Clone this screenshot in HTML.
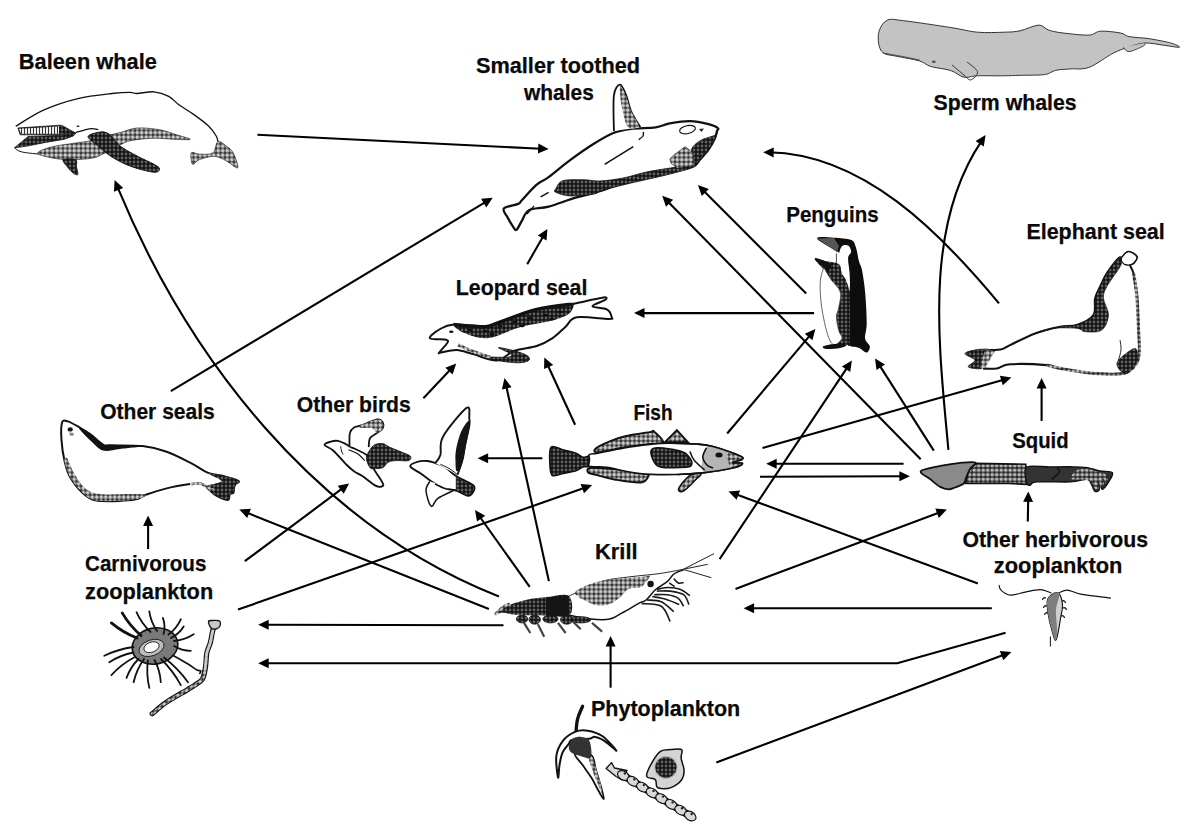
<!DOCTYPE html>
<html><head><meta charset="utf-8"><style>
html,body{margin:0;padding:0;background:#fff;}
svg{display:block;}
.ar line,.ar .c{stroke:#000;stroke-width:2.1;fill:none;}
.ar path{fill:#000;}
.lb text{font-family:"Liberation Sans",sans-serif;font-weight:bold;font-size:22px;fill:#0a0a0a;stroke:#0a0a0a;stroke-width:0.25px;}
</style></head><body>
<svg width="1191" height="839" viewBox="0 0 1191 839">
<defs>
<pattern id="lt" width="4.5" height="4.5" patternUnits="userSpaceOnUse"><rect width="4.5" height="4.5" fill="#333"/><circle cx="2.25" cy="2.25" r="1.95" fill="#bdbdbd"/><circle cx="1.8" cy="1.8" r="0.6" fill="#eee"/></pattern>
<pattern id="md" width="4.5" height="4.5" patternUnits="userSpaceOnUse"><rect width="4.5" height="4.5" fill="#2a2a2a"/><circle cx="2.25" cy="2.25" r="1.9" fill="#aaa"/><circle cx="1.8" cy="1.8" r="0.6" fill="#ddd"/></pattern>
<pattern id="dk" width="4" height="4" patternUnits="userSpaceOnUse"><rect width="4" height="4" fill="#111"/><circle cx="2" cy="2" r="1.45" fill="#606060"/></pattern>
<pattern id="bl" width="3" height="3" patternUnits="userSpaceOnUse"><rect width="3" height="3" fill="#eee"/><rect width="1" height="3" fill="#333"/></pattern>
</defs>
<g class="an">
<path d="M15.7,126.3 C20.4,123.6 33.6,114.5 44.0,109.9 C54.4,105.3 66.6,101.3 77.9,98.6 C89.2,95.9 103.2,94.5 111.9,93.5 C120.6,92.5 125.8,92.4 130.0,92.4 C134.2,92.4 133.0,93.6 137.0,93.5 C141.0,93.4 148.7,91.3 154.0,91.8 C159.3,92.3 164.5,94.1 168.7,96.3 C172.8,98.5 174.8,101.8 178.9,104.8 C183.1,107.8 188.7,110.9 193.6,114.4 C198.5,117.9 204.5,122.2 208.3,125.8 C212.1,129.4 214.6,133.4 216.2,136.0 C217.8,138.6 217.6,140.7 217.9,141.6" fill="none" stroke="#111" stroke-width="1.3" />
<path d="M38.3,154.1 C36.7,153.0 37.8,152.0 40.6,150.7 C43.4,149.4 49.1,147.4 55.3,146.1 C61.5,144.8 71.9,143.6 77.9,142.7 C83.9,141.8 86.8,141.6 91.5,140.5 C96.2,139.4 101.2,137.3 106.0,136.0 C110.8,134.7 114.8,133.9 120.0,132.6 C125.2,131.3 130.4,128.5 137.0,128.0 C143.6,127.5 153.0,128.6 159.6,129.7 C166.2,130.8 171.5,133.2 176.6,134.8 C181.7,136.4 190.6,138.6 190.2,139.3 C189.8,140.1 180.3,139.5 174.3,139.3 C168.3,139.1 161.2,138.0 154.0,138.2 C146.8,138.4 137.0,139.4 131.3,140.5 C125.6,141.6 125.1,142.6 120.0,145.0 C114.9,147.4 105.7,152.9 100.6,155.2 C95.5,157.5 94.9,157.8 89.2,158.6 C83.5,159.3 73.1,159.9 66.6,159.7 C60.1,159.5 54.7,158.4 50.0,157.5 C45.3,156.6 39.9,155.2 38.3,154.1Z" fill="url(#lt)" stroke="#111" stroke-width="0.6" />
<path d="M14.5,147.8 L28.1,136.5 L61.0,135.4 L75.7,133.1 L73.4,135.9 L64.3,139.3 L44.0,142.7 L27.0,146.1Z" fill="url(#dk)" stroke="#111" stroke-width="0.8" />
<path d="M14.5,147.8 C15.6,148.5 17.3,150.8 21.3,151.8 C25.3,152.9 35.5,153.7 38.3,154.1" fill="none" stroke="#111" stroke-width="1" />
<path d="M17.9,128.0 L59.8,125.2 L62.0,125.5 L75.7,133.1 L61.0,134.8 L20.2,134.8Z" fill="url(#dk)" stroke="#111" stroke-width="0.8" />
<path d="M19.0,128.8 L59.0,126.5 L59.0,133.8 L21.0,133.8Z" fill="url(#bl)" stroke="none" stroke-width="1" />
<path d="M75.7,132.5 C77.0,132.1 81.0,131.0 83.6,130.3 C86.2,129.7 89.0,128.7 91.5,128.6 C94.0,128.5 97.2,129.5 98.3,129.7" fill="none" stroke="#111" stroke-width="1.2" />
<ellipse cx="78" cy="126.3" rx="1.6" ry="0.8" fill="#111"/>
<path d="M88.1,136.5 C88.5,134.2 97.2,132.5 100.6,132.0 C104.0,131.5 106.3,132.5 108.5,133.7 C110.7,134.9 112.1,136.9 114.0,139.0 C115.9,141.1 116.2,143.3 120.0,146.1 C123.8,148.9 131.3,153.0 137.0,156.0 C142.7,159.0 150.2,162.2 154.0,164.3 C157.8,166.4 159.6,167.5 159.6,168.8 C159.6,170.1 158.7,172.6 154.0,172.2 C149.3,171.8 138.3,169.0 131.3,166.5 C124.3,164.0 117.5,160.4 112.0,157.0 C106.5,153.6 102.0,149.4 98.0,146.0 C94.0,142.6 87.7,138.8 88.1,136.5Z" fill="url(#dk)" stroke="#111" stroke-width="1" />
<path d="M63.2,159.7 C64.6,158.5 73.5,158.5 75.7,159.7 C77.9,160.9 76.1,164.6 76.5,167.0 C76.9,169.4 78.4,173.3 77.9,174.4 C77.4,175.5 75.1,174.5 73.4,173.3 C71.7,172.1 69.2,169.3 67.5,167.0 C65.8,164.7 61.8,160.9 63.2,159.7Z" fill="url(#dk)" stroke="#111" stroke-width="0.8" />
<path d="M217.9,141.6 C220.2,140.5 223.9,144.2 226.4,146.1 C228.9,148.0 231.3,149.3 233.2,152.9 C235.1,156.5 238.7,166.2 237.8,167.7 C236.9,169.2 230.7,163.5 228.0,162.0 C225.3,160.5 224.4,159.5 221.9,158.6 C219.4,157.7 216.6,156.1 212.8,156.3 C209.0,156.5 202.7,158.4 199.3,159.7 C195.9,161.0 193.8,165.4 192.5,164.3 C191.2,163.2 190.2,154.6 191.3,152.9 C192.4,151.2 195.7,154.1 199.3,154.1 C202.9,154.1 209.7,155.0 212.8,152.9 C215.9,150.8 215.6,142.7 217.9,141.6Z" fill="url(#lt)" stroke="#111" stroke-width="0.6" />
<path d="M503.9,208.4 C505.7,206.2 515.2,205.2 518.2,203.9 C521.2,202.6 518.8,203.4 521.8,200.3 C524.8,197.2 531.6,189.0 536.1,185.1 C540.6,181.2 542.9,181.3 548.6,177.1 C554.3,172.9 562.6,165.6 570.1,160.1 C577.6,154.6 586.1,148.6 593.4,144.0 C600.7,139.4 607.6,135.2 613.9,132.7 C620.2,130.2 624.0,129.7 631.0,128.8 C638.0,127.9 649.3,128.2 655.8,127.3 C662.2,126.4 664.0,124.4 669.7,123.4 C675.4,122.4 683.4,121.0 689.9,121.1 C696.4,121.2 703.9,123.0 708.5,124.2 C713.1,125.4 716.4,126.8 717.8,128.0 C719.2,129.2 717.5,129.3 717.0,131.1 C716.5,132.9 716.1,135.8 714.7,138.9 C713.3,142.0 711.1,146.1 708.5,149.7 C705.9,153.3 701.5,158.0 699.2,160.6 C696.9,163.2 698.1,163.6 694.5,165.2 C690.9,166.8 685.5,168.3 677.5,169.9 C669.5,171.5 655.5,172.7 646.5,174.5 C637.5,176.3 630.6,178.0 623.2,180.7 C615.8,183.4 610.2,187.7 602.3,190.5 C594.3,193.3 584.5,195.0 575.5,197.7 C566.5,200.4 556.4,204.5 548.6,206.6 C540.9,208.7 533.5,207.8 529.0,210.2 C524.5,212.6 523.9,217.6 521.8,220.9 C519.7,224.2 518.0,228.9 516.5,229.8 C515.0,230.7 514.4,228.4 512.9,226.3 C511.4,224.2 509.0,220.3 507.5,217.3 C506.0,214.3 502.1,210.6 503.9,208.4Z" fill="#fff" stroke="#111" stroke-width="2.3" />
<path d="M555.8,188.7 C557.0,186.8 558.2,182.2 563.0,180.7 C567.8,179.2 578.2,179.8 584.4,179.8 C590.6,179.9 593.5,181.3 600.0,181.0 C606.5,180.7 615.5,179.5 623.2,178.0 C631.0,176.5 637.5,173.9 646.5,172.0 C655.5,170.1 669.5,168.3 677.5,166.8 C685.5,165.3 691.9,162.9 694.5,163.0 C697.1,163.1 698.4,165.3 693.0,167.5 C687.6,169.7 672.3,173.4 662.0,176.0 C651.7,178.6 641.0,180.6 631.0,183.0 C621.0,185.4 608.6,188.7 602.3,190.5 C596.0,192.3 598.8,193.2 593.4,194.1 C588.0,195.0 576.4,196.2 570.1,195.9 C563.8,195.6 558.2,193.5 555.8,192.3 C553.4,191.1 554.6,190.6 555.8,188.7Z" fill="url(#dk)" stroke="#111" stroke-width="0.8" />
<path d="M717.0,131.1 C716.9,131.8 716.1,135.8 714.7,138.9 C713.3,142.0 711.1,146.1 708.5,149.7 C705.9,153.3 701.8,158.0 699.2,160.6 C696.6,163.2 694.3,167.0 693.0,165.2 C691.7,163.4 690.1,153.8 691.4,149.7 C692.7,145.6 696.7,142.8 700.7,140.4 C704.7,138.0 712.7,136.6 715.4,135.0 C718.1,133.4 717.1,130.4 717.0,131.1Z" fill="url(#dk)" stroke="#111" stroke-width="0.8" />
<path d="M669.7,159.0 L674.4,154.4 L685.2,146.6 L693.0,152.8 L694.5,165.2 L677.5,168.3 L671.3,163.7Z" fill="url(#lt)" stroke="#111" stroke-width="0.5" />
<path d="M613.9,131.1 C613.9,125.2 612.9,103.2 613.9,95.5 C614.9,87.8 618.0,84.6 620.1,84.6 C622.2,84.6 624.5,91.1 626.3,95.5 C628.1,99.9 628.7,105.7 631.0,111.0 C633.3,116.3 638.8,124.6 640.3,127.3" fill="#fff" stroke="#111" stroke-width="1.8" />
<path d="M620.5,86.0 C621.5,86.7 624.2,91.8 626.0,96.0 C627.8,100.2 628.9,106.0 631.0,111.0 C633.1,116.0 639.0,123.3 638.5,126.0 C638.0,128.7 630.8,130.0 628.0,127.0 C625.2,124.0 623.3,113.8 622.0,108.0 C620.7,102.2 620.2,95.7 620.0,92.0 C619.8,88.3 619.5,85.3 620.5,86.0Z" fill="url(#lt)" stroke="none" stroke-width="1" />
<ellipse cx="687.5" cy="129.6" rx="8" ry="4" transform="rotate(-12 687.5 129.6)" fill="none" stroke="#111" stroke-width="1.1"/>
<path d="M699.0,129.0 L704.0,128.5 L701.5,132.0Z" fill="#222" stroke="none" stroke-width="1" />
<path d="M604.6,164.4 L633.3,146.6" fill="none" stroke="#111" stroke-width="1.6" />
<path d="M638.7,139.7 C639.4,139.1 642.2,137.3 643.0,136.0 C643.8,134.7 643.3,132.6 643.4,131.9" fill="none" stroke="#111" stroke-width="1.4" />
<path d="M540.6,196.8 L548.6,192.3" fill="none" stroke="#111" stroke-width="1.5" />
<path d="M527,214 L534,206" fill="none" stroke="#111" stroke-width="1.2" />
<path d="M887.5,20.1 C891.5,18.5 893.1,19.5 903.6,20.7 C914.1,21.9 938.3,25.6 950.6,27.5 C962.9,29.4 968.5,31.4 977.5,32.2 C986.5,33.0 997.2,32.4 1004.3,32.2 C1011.4,32.0 1014.3,32.0 1020.0,30.8 C1025.7,29.6 1033.9,25.2 1038.7,25.1 C1043.5,25.0 1044.6,28.8 1048.7,30.1 C1052.8,31.4 1056.4,32.2 1063.1,33.0 C1069.8,33.8 1082.7,35.4 1088.9,35.1 C1095.1,34.8 1095.1,31.6 1100.4,31.2 C1105.7,30.8 1115.7,32.1 1120.5,33.0 C1125.3,33.9 1124.3,35.6 1129.1,36.6 C1133.9,37.6 1142.2,37.6 1149.2,38.7 C1156.2,39.8 1165.8,41.6 1170.8,43.0 C1175.8,44.4 1180.6,46.9 1179.4,47.3 C1178.2,47.7 1169.3,45.9 1163.6,45.2 C1157.8,44.5 1150.7,42.7 1144.9,43.0 C1139.2,43.3 1134.4,45.3 1129.1,47.0 C1123.8,48.7 1120.0,49.7 1113.3,53.1 C1106.6,56.5 1096.1,64.8 1088.9,67.4 C1081.7,70.0 1075.8,68.4 1070.3,68.9 C1064.8,69.4 1060.2,69.3 1055.9,70.3 C1051.6,71.2 1050.4,73.8 1044.4,74.6 C1038.4,75.4 1026.7,75.1 1020.0,75.3 C1013.3,75.5 1011.4,75.7 1004.3,75.8 C997.2,75.9 984.2,75.6 977.5,75.8 C970.8,76.0 968.5,78.1 964.0,77.2 C959.5,76.3 956.2,72.3 950.6,70.5 C945.0,68.7 935.6,68.0 930.5,66.4 C925.4,64.8 925.3,62.7 919.7,61.0 C914.1,59.3 903.0,57.6 896.9,56.3 C890.8,55.0 886.4,55.1 883.4,53.0 C880.4,50.9 879.4,47.4 878.7,43.6 C878.0,39.8 877.9,34.1 879.4,30.2 C880.9,26.3 883.5,21.7 887.5,20.1Z" fill="#c3c3c3" stroke="#333" stroke-width="1" />
<path d="M1123.4,47.3 C1124.4,48.0 1125.8,51.8 1129.1,51.6 C1132.4,51.4 1140.9,47.3 1143.5,45.9 C1146.1,44.5 1144.7,43.5 1144.9,43.0" fill="#c3c3c3" stroke="#333" stroke-width="0.9" />
<path d="M952.0,65.0 C954.0,66.7 960.9,72.5 964.0,75.0 C967.1,77.5 968.5,80.4 970.8,79.9 C973.0,79.4 978.1,74.8 977.5,71.8 C976.9,68.8 968.8,63.6 967.0,62.0" fill="none" stroke="#333" stroke-width="1" />
<path d="M883.0,53.0 C885.8,53.5 893.9,54.8 900.0,56.0 C906.1,57.2 916.4,59.3 919.7,60.0" fill="none" stroke="#333" stroke-width="0.8" />
<ellipse cx="933.8" cy="61.7" rx="2" ry="1.2" fill="#555"/>
<path d="M817.1,238.5 C816.5,236.1 828.4,237.5 834.1,237.8 C839.8,238.1 847.6,238.6 851.2,240.1 C854.8,241.6 854.5,243.6 855.8,247.1 C857.1,250.6 857.9,257.1 858.9,261.0 C859.9,264.9 861.0,265.1 862.0,270.3 C863.0,275.5 864.3,283.2 865.1,292.0 C865.9,300.8 866.7,315.2 866.7,323.0 C866.7,330.8 864.6,334.6 865.1,338.5 C865.6,342.4 869.5,344.0 869.8,346.3 C870.1,348.6 868.5,352.2 866.7,352.5 C864.9,352.8 862.3,349.4 858.9,347.8 C855.5,346.2 849.6,347.8 846.5,343.2 C843.4,338.6 840.2,328.9 840.0,320.0 C839.8,311.1 843.7,298.3 845.0,290.0 C846.3,281.7 847.8,275.7 848.0,270.0 C848.2,264.3 847.7,259.0 846.0,256.0 C844.3,253.0 842.8,254.9 838.0,252.0 C833.2,249.1 817.8,240.9 817.1,238.5Z" fill="#0d0d0d" stroke="none" stroke-width="1" />
<path d="M817.1,238.5 L834.0,238.0 L839.0,246.0 L837.0,252.0Z" fill="#555" stroke="none" stroke-width="1" />
<path d="M841.9,246.3 C843.4,244.6 846.5,244.6 848.1,245.5 C849.7,246.4 851.2,249.6 851.2,251.7 C851.2,253.8 848.4,254.3 848.1,257.9 C847.8,261.5 849.4,268.0 849.6,273.4 C849.9,278.8 850.2,286.9 849.6,290.0 C849.0,293.1 847.3,295.3 846.0,292.0 C844.7,288.7 843.2,276.0 842.0,270.0 C840.8,264.0 839.0,259.9 839.0,256.0 C839.0,252.1 840.4,248.1 841.9,246.3Z" fill="#fff" stroke="none" stroke-width="1" />
<path d="M836.4,253.3 L836.4,263" fill="none" stroke="#222" stroke-width="0.8" />
<path d="M814.7,258.7 C814.8,257.2 820.8,260.1 824.8,261.0 C828.8,261.9 835.9,262.0 838.8,264.1 C841.6,266.2 840.6,270.5 841.9,273.4 C843.2,276.2 845.2,277.3 846.5,281.2 C847.8,285.1 849.1,286.6 849.6,296.7 C850.1,306.8 850.1,333.6 849.6,341.6 C849.1,349.6 849.1,344.2 846.5,344.7 C843.9,345.2 834.9,345.7 834.1,344.7 C833.3,343.7 841.1,340.8 841.9,338.5 C842.7,336.2 839.7,334.4 838.8,330.8 C837.9,327.2 836.4,320.7 836.4,316.8 C836.4,312.9 838.1,311.6 838.8,307.5 C839.4,303.4 841.6,296.6 840.3,292.0 C839.0,287.4 833.7,283.3 831.0,279.6 C828.3,275.9 826.7,273.5 824.0,270.0 C821.3,266.5 814.6,260.2 814.7,258.7Z" fill="url(#dk)" stroke="none" stroke-width="1" />
<path d="M814.7,258.7 C814.8,257.5 822.1,259.9 824.8,261.0 C827.5,262.1 830.5,263.2 831.0,265.0 C831.5,266.8 829.2,271.5 828.0,272.0 C826.8,272.5 826.2,270.2 824.0,268.0 C821.8,265.8 814.6,259.9 814.7,258.7Z" fill="#111" stroke="none" stroke-width="1" />
<path d="M824.0,268.0 C825.3,269.8 828.3,275.6 831.0,279.6 C833.7,283.6 839.0,287.4 840.3,292.0 C841.6,296.6 839.4,303.4 838.8,307.5 C838.1,311.6 836.4,312.9 836.4,316.8 C836.4,320.7 837.9,327.2 838.8,330.8 C839.7,334.4 842.7,336.2 841.9,338.5 C841.1,340.8 836.4,345.2 834.1,344.7 C831.8,344.2 830.0,341.6 827.9,335.4 C825.8,329.2 823.0,316.3 821.7,307.5 C820.4,298.7 819.9,289.1 820.2,282.7 C820.5,276.2 822.7,271.2 823.3,268.8 C823.9,266.4 822.7,266.2 824.0,268.0Z" fill="#fff" stroke="#222" stroke-width="0.7" />
<path d="M823.3,346.3 C824.6,345.5 830.1,344.3 834.0,344.0 C837.9,343.7 845.5,344.0 846.5,344.7 C847.5,345.4 843.4,347.3 840.0,348.0 C836.6,348.7 828.8,349.3 826.0,349.0 C823.2,348.7 822.0,347.1 823.3,346.3Z" fill="#111" stroke="none" stroke-width="1" />
<path d="M990.0,350.1 C992.0,350.0 998.4,350.1 1001.7,349.3 C1005.0,348.5 1004.4,347.8 1010.0,345.1 C1015.6,342.5 1026.8,336.5 1035.1,333.4 C1043.4,330.3 1053.1,328.1 1060.1,326.7 C1067.0,325.3 1071.2,327.0 1076.8,325.1 C1082.3,323.2 1090.4,319.6 1093.4,315.1 C1096.5,310.7 1094.0,303.1 1095.1,298.4 C1096.2,293.7 1098.1,290.9 1100.1,286.7 C1102.0,282.5 1103.7,278.1 1106.8,273.4 C1109.9,268.7 1116.0,260.9 1118.5,258.3 C1121.0,255.7 1120.1,258.6 1121.8,257.5 C1123.5,256.4 1126.0,251.8 1128.5,251.7 C1131.0,251.6 1136.0,254.8 1136.8,256.7 C1137.6,258.6 1134.6,261.9 1133.5,263.3 C1132.4,264.7 1130.1,263.3 1130.1,265.0 C1130.1,266.7 1132.4,268.4 1133.5,273.4 C1134.6,278.4 1136.0,285.8 1136.8,295.0 C1137.6,304.2 1138.1,318.7 1138.5,328.4 C1138.9,338.1 1139.9,347.3 1139.3,353.4 C1138.7,359.5 1137.7,361.8 1135.1,365.1 C1132.5,368.4 1130.5,372.0 1123.5,373.4 C1116.5,374.8 1104.0,374.2 1093.4,373.4 C1082.8,372.6 1067.9,369.8 1060.1,368.4 C1052.3,367.0 1055.0,365.8 1046.7,365.1 C1038.4,364.4 1018.3,363.7 1010.0,364.3 C1001.7,364.9 1001.2,367.8 996.7,368.5 C992.2,369.2 985.3,368.5 983.0,368.5" fill="#fff" stroke="#111" stroke-width="2.1" />
<path d="M1118.5,258.3 C1116.0,260.7 1109.9,268.7 1106.8,273.4 C1103.7,278.1 1102.0,282.5 1100.1,286.7 C1098.1,290.9 1096.2,293.7 1095.1,298.4 C1094.0,303.1 1096.5,310.7 1093.4,315.1 C1090.4,319.6 1082.3,323.2 1076.8,325.1 C1071.2,327.0 1067.0,325.3 1060.1,326.7 C1053.1,328.1 1036.5,333.1 1035.1,333.4 C1033.7,333.7 1044.8,329.2 1051.7,328.4 C1058.7,327.6 1071.2,327.8 1076.8,328.4 C1082.4,328.9 1080.9,331.4 1085.1,331.7 C1089.3,332.0 1097.9,332.9 1101.8,330.1 C1105.7,327.3 1108.2,320.4 1108.5,315.1 C1108.8,309.8 1103.8,303.1 1103.5,298.4 C1103.2,293.7 1104.0,292.0 1106.8,286.7 C1109.6,281.4 1117.6,271.3 1120.1,266.7 C1122.6,262.1 1122.3,260.4 1122.0,259.0 C1121.7,257.6 1121.0,255.9 1118.5,258.3Z" fill="url(#dk)" stroke="#111" stroke-width="0.6" />
<path d="M1121.8,257.5 C1122.9,255.8 1126.0,251.8 1128.5,251.7 C1131.0,251.6 1136.0,254.8 1136.8,256.7 C1137.6,258.6 1135.2,261.9 1133.5,263.3 C1131.8,264.7 1128.7,265.2 1126.8,265.0 C1124.9,264.8 1122.8,263.2 1122.0,262.0 C1121.2,260.8 1120.7,259.2 1121.8,257.5Z" fill="#fff" stroke="#111" stroke-width="1.3" />
<path d="M1133.5,273.4 C1134.0,277.0 1136.0,285.8 1136.8,295.0 C1137.6,304.2 1138.1,318.7 1138.5,328.4 C1138.9,338.1 1139.9,347.3 1139.3,353.4 C1138.7,359.5 1137.7,361.8 1135.1,365.1 C1132.5,368.4 1130.5,372.0 1123.5,373.4 C1116.5,374.8 1104.0,374.2 1093.4,373.4 C1082.8,372.6 1067.9,369.8 1060.1,368.4 C1052.3,367.0 1048.9,365.7 1046.7,365.1" fill="none" stroke="url(#md)" stroke-width="3.2" />
<path d="M1118.5,360.1 C1121.3,356.8 1132.0,348.1 1135.1,348.4 C1138.1,348.7 1138.2,357.6 1136.8,361.8 C1135.4,366.0 1129.8,372.3 1126.8,373.4 C1123.8,374.5 1119.9,370.6 1118.5,368.4 C1117.1,366.2 1115.7,363.4 1118.5,360.1Z" fill="url(#dk)" stroke="#111" stroke-width="0.6" />
<path d="M1120.1,340.1 C1120.2,341.8 1121.3,346.7 1121.0,350.0 C1120.7,353.3 1118.9,358.4 1118.5,360.1" fill="none" stroke="#111" stroke-width="0.9" />
<path d="M965.0,353.4 C965.8,351.6 975.3,349.7 980.0,349.3 C984.7,348.9 992.2,349.1 993.4,350.9 C994.6,352.7 989.0,357.1 987.0,360.0 C985.0,362.9 984.8,367.3 981.7,368.4 C978.6,369.5 969.4,368.2 968.3,366.8 C967.2,365.4 975.5,362.3 975.0,360.1 C974.5,357.9 964.2,355.2 965.0,353.4Z" fill="url(#dk)" stroke="#111" stroke-width="0.8" />
<path d="M985.0,350.0 L995.0,351.0 L985.0,368.0 L980.0,368.0Z" fill="url(#lt)" stroke="none" stroke-width="1" />
<path d="M429.8,338.1 C429.0,336.2 437.0,330.8 441.0,328.5 C445.0,326.2 448.4,324.9 453.7,324.5 C459.0,324.1 467.0,325.8 472.9,326.1 C478.8,326.4 482.2,327.6 488.8,326.1 C495.4,324.6 504.7,320.1 512.7,317.3 C520.7,314.5 527.4,311.5 536.7,309.4 C546.0,307.3 560.6,305.9 568.6,304.6 C576.6,303.3 578.6,302.6 584.5,301.4 C590.4,300.2 600.2,297.7 603.7,297.4 C607.2,297.1 607.2,298.3 605.3,299.8 C603.4,301.3 592.2,304.6 592.5,306.2 C592.8,307.8 603.7,307.5 606.9,309.4 C610.1,311.2 611.4,315.7 611.7,317.3 C612.0,318.9 614.4,318.9 608.5,318.9 C602.6,318.9 583.8,316.0 576.6,317.3 C569.4,318.6 569.4,323.4 565.4,326.9 C561.4,330.4 557.4,334.9 552.6,338.1 C547.8,341.3 543.1,343.9 536.7,346.0 C530.3,348.1 520.9,348.4 514.3,350.8 C507.6,353.2 503.7,359.9 496.8,360.4 C489.9,360.9 479.5,355.7 472.9,354.0 C466.2,352.3 462.2,350.3 456.9,350.0 C451.6,349.7 443.9,352.0 441.0,352.4 C438.1,352.8 438.3,354.0 439.4,352.4 C440.4,350.8 446.2,345.0 447.3,342.9 C448.4,340.8 448.6,340.5 445.7,339.7 C442.8,338.9 430.6,340.0 429.8,338.1Z" fill="#fff" stroke="#111" stroke-width="2" />
<path d="M453.7,324.5 C455.0,323.3 467.0,325.8 472.9,326.1 C478.8,326.4 482.2,327.6 488.8,326.1 C495.4,324.6 504.7,320.1 512.7,317.3 C520.7,314.5 527.4,311.5 536.7,309.4 C546.0,307.3 562.5,305.3 568.6,304.6 C574.7,303.9 573.4,303.8 573.4,305.4 C573.4,307.0 572.1,311.6 568.6,314.1 C565.1,316.6 560.6,318.4 552.6,320.5 C544.6,322.6 531.3,324.0 520.7,326.9 C510.1,329.8 498.1,337.0 488.8,338.1 C479.5,339.2 470.8,335.6 464.9,333.3 C459.0,331.0 452.4,325.7 453.7,324.5Z" fill="url(#dk)" stroke="none" stroke-width="1" />
<path d="M453.7,324.5 C456.9,324.8 467.0,325.8 472.9,326.1 C478.8,326.4 482.2,327.6 488.8,326.1 C495.4,324.6 504.7,320.1 512.7,317.3 C520.7,314.5 527.4,311.5 536.7,309.4 C546.0,307.3 562.5,305.3 568.6,304.6 C574.7,303.9 572.6,305.3 573.4,305.4" fill="none" stroke="#111" stroke-width="3.5" />
<ellipse cx="470" cy="330" rx="2.6" ry="1.3" fill="#111"/>
<ellipse cx="485" cy="331" rx="2.6" ry="1.3" fill="#111"/>
<ellipse cx="500" cy="326" rx="2.6" ry="1.3" fill="#111"/>
<ellipse cx="515" cy="322" rx="2.6" ry="1.3" fill="#111"/>
<ellipse cx="530" cy="318" rx="2.6" ry="1.3" fill="#111"/>
<ellipse cx="545" cy="315" rx="2.6" ry="1.3" fill="#111"/>
<ellipse cx="560" cy="312" rx="2.6" ry="1.3" fill="#111"/>
<ellipse cx="492" cy="334" rx="2.6" ry="1.3" fill="#111"/>
<ellipse cx="522" cy="326" rx="2.6" ry="1.3" fill="#111"/>
<ellipse cx="552" cy="319" rx="2.6" ry="1.3" fill="#111"/>
<path d="M498.4,347.6 C498.9,347.1 509.5,349.5 514.3,350.8 C519.1,352.1 524.7,354.0 527.1,355.6 C529.5,357.2 530.3,359.2 528.7,360.4 C527.1,361.6 522.8,362.8 517.5,362.8 C512.2,362.8 501.6,361.3 496.8,360.4 C492.0,359.5 486.9,357.7 488.8,357.2 C490.7,356.7 504.3,357.7 508.0,357.2 C511.7,356.7 512.6,355.6 511.0,354.0 C509.4,352.4 497.8,348.1 498.4,347.6Z" fill="url(#dk)" stroke="#111" stroke-width="0.8" />
<path d="M458.0,345.0 C460.3,346.0 466.7,349.0 472.0,351.0 C477.3,353.0 487.0,356.0 490.0,357.0" fill="none" stroke="url(#lt)" stroke-width="3" />
<ellipse cx="451.3" cy="331.7" rx="2.2" ry="1.3" fill="#111"/>
<path d="M62.2,422.2 C63.3,419.3 65.0,420.6 67.8,421.4 C70.6,422.2 75.2,424.9 78.9,427.0 C82.6,429.1 86.1,431.2 90.1,434.1 C94.1,437.0 99.5,442.6 102.9,444.5 C106.4,446.4 104.2,445.0 110.8,445.3 C117.4,445.6 133.4,445.0 142.7,446.1 C152.0,447.2 158.7,448.9 166.7,451.7 C174.7,454.5 183.7,459.4 190.6,462.9 C197.5,466.4 202.9,470.8 208.2,472.9 C213.5,475.0 217.2,474.3 222.2,475.6 C227.2,476.9 236.1,479.5 238.3,480.9 C240.5,482.3 236.3,482.9 235.6,484.1 C234.9,485.3 234.3,486.5 234.0,487.9 C233.7,489.3 234.2,491.6 233.5,492.7 C232.8,493.8 230.5,493.1 229.7,494.3 C228.9,495.5 229.8,499.0 228.6,499.7 C227.3,500.4 224.6,499.5 222.2,498.6 C219.8,497.7 216.8,496.3 214.1,494.3 C211.4,492.3 208.3,488.6 206.1,486.8 C203.9,485.0 203.4,484.1 200.7,483.6 C198.0,483.2 195.7,483.3 190.0,484.1 C184.3,484.9 174.0,486.6 166.7,488.4 C159.3,490.2 151.2,492.9 145.9,494.8 C140.6,496.7 142.0,498.6 134.8,499.6 C127.6,500.7 110.9,501.6 102.9,501.1 C94.9,500.6 92.2,500.1 86.9,496.4 C81.6,492.7 74.7,484.6 71.0,478.8 C67.3,473.0 66.2,468.0 64.6,461.3 C63.0,454.6 61.8,445.4 61.4,438.9 C61.0,432.4 61.1,425.1 62.2,422.2Z" fill="#fff" stroke="#111" stroke-width="2" />
<path d="M78.9,427.0 C80.2,427.4 86.1,431.2 90.1,434.1 C94.1,437.0 99.5,442.6 102.9,444.5 C106.4,446.4 104.2,445.0 110.8,445.3 C117.4,445.6 141.2,445.5 142.7,446.1 C144.2,446.7 126.6,448.3 120.0,449.0 C113.4,449.7 107.7,451.7 103.0,450.5 C98.3,449.3 95.5,445.1 92.0,442.0 C88.5,438.9 84.2,434.5 82.0,432.0 C79.8,429.5 77.6,426.6 78.9,427.0Z" fill="#111" stroke="none" stroke-width="1" />
<path d="M64.6,461.3 C65.3,464.8 67.3,473.0 71.0,478.8 C74.7,484.6 81.6,492.7 86.9,496.4 C92.2,500.1 94.9,500.6 102.9,501.1 C110.9,501.6 127.6,500.7 134.8,499.6 C142.0,498.6 146.7,495.7 145.9,494.8 C145.1,493.9 137.7,494.1 130.0,494.0 C122.3,493.9 107.5,495.0 100.0,494.0 C92.5,493.0 89.3,491.5 85.0,488.0 C80.7,484.5 77.0,478.0 74.0,473.0 C71.0,468.0 68.6,459.9 67.0,458.0 C65.4,456.1 63.9,457.8 64.6,461.3Z" fill="url(#lt)" stroke="none" stroke-width="1" />
<path d="M208.2,473.4 C208.4,472.6 217.2,474.4 222.2,475.6 C227.2,476.9 236.1,479.5 238.3,480.9 C240.5,482.3 236.3,482.9 235.6,484.1 C234.9,485.3 234.3,486.5 234.0,487.9 C233.7,489.3 234.2,491.6 233.5,492.7 C232.8,493.8 230.5,493.1 229.7,494.3 C228.9,495.5 229.8,499.0 228.6,499.7 C227.3,500.4 224.6,499.5 222.2,498.6 C219.8,497.7 216.8,496.3 214.1,494.3 C211.4,492.3 205.9,488.6 206.1,486.8 C206.3,485.0 212.7,484.7 215.2,483.6 C217.7,482.5 222.3,482.1 221.1,480.4 C219.9,478.7 208.0,474.2 208.2,473.4Z" fill="url(#dk)" stroke="none" stroke-width="1" />
<path d="M190.0,484.1 C191.8,484.0 198.0,483.2 200.7,483.6 C203.4,484.1 203.9,485.7 206.1,486.8 C208.3,487.9 212.7,489.5 214.0,490.0" fill="none" stroke="url(#lt)" stroke-width="2.5" />
<ellipse cx="70.2" cy="429.4" rx="2.6" ry="2.2" fill="#111"/><path d="M69,432.5 L74,433 L73,436 L70,435.5Z" fill="#888"/>
<path d="M324.5,444.9 C324.2,443.3 329.4,442.1 331.6,441.4 C333.8,440.7 335.7,440.5 337.9,440.9 C340.1,441.3 343.1,442.7 345.0,443.6 C346.9,444.5 345.7,444.2 349.5,446.3 C353.3,448.4 364.0,452.3 368.0,456.0 C372.0,459.7 371.2,464.1 373.6,468.6 C376.0,473.1 381.2,479.9 382.6,482.9 C384.0,485.9 382.9,486.1 381.7,486.5 C380.5,486.9 378.7,487.4 375.4,485.6 C372.1,483.8 365.6,478.2 362.0,475.8 C358.4,473.4 356.5,473.1 354.0,471.3 C351.5,469.5 350.2,468.4 346.8,465.0 C343.4,461.6 337.1,454.1 333.4,450.7 C329.7,447.3 324.8,446.4 324.5,444.9Z" fill="#fff" stroke="#111" stroke-width="1.9" />
<path d="M349.5,446.3 C349.6,444.1 349.1,436.0 349.9,432.9 C350.6,429.8 352.3,428.7 354.0,427.5 C355.7,426.3 356.3,427.0 360.2,425.7 C364.1,424.4 373.5,420.1 377.2,419.5 C380.9,418.9 381.7,420.6 382.6,422.1 C383.5,423.6 383.5,426.6 382.6,428.4 C381.7,430.2 379.3,431.3 377.2,432.9 C375.1,434.5 371.4,435.8 370.0,438.2 C368.6,440.6 368.9,445.7 368.7,447.2" fill="#fff" stroke="#111" stroke-width="1.8" />
<path d="M360.2,425.7 C362.7,424.3 373.5,420.1 377.2,419.5 C380.9,418.9 381.7,420.6 382.6,422.1 C383.5,423.6 383.5,426.6 382.6,428.4 C381.7,430.2 379.0,433.0 377.2,432.9 C375.4,432.8 374.5,428.8 372.0,428.0 C369.5,427.2 364.0,428.4 362.0,428.0 C360.0,427.6 357.7,427.1 360.2,425.7Z" fill="url(#lt)" stroke="none" stroke-width="1" />
<path d="M367.4,454.3 C368.6,451.9 371.1,447.2 373.6,445.4 C376.1,443.6 379.9,443.3 382.6,443.6 C385.3,443.9 386.7,445.9 389.7,447.2 C392.7,448.5 397.0,450.1 400.4,451.6 C403.8,453.1 408.9,454.6 410.3,456.1 C411.7,457.6 410.9,459.9 408.5,460.6 C406.1,461.4 399.4,460.3 396.0,460.6 C392.6,460.9 390.1,461.2 387.9,462.4 C385.7,463.6 385.0,466.7 382.6,467.7 C380.2,468.7 375.7,468.6 373.6,468.6 C371.5,468.6 371.2,469.2 370.0,467.7 C368.8,466.2 366.9,461.9 366.5,459.7 C366.1,457.5 366.2,456.7 367.4,454.3Z" fill="url(#dk)" stroke="#111" stroke-width="0.8" />
<path d="M340.6,446.3 C340.8,447.1 341.1,449.6 341.5,451.0 C341.9,452.4 342.8,453.9 343.0,454.5" fill="none" stroke="#111" stroke-width="1" />
<path d="M348.5,449.8 C350.1,450.5 355.3,452.2 358.0,454.0 C360.7,455.8 363.6,459.5 364.7,460.6" fill="none" stroke="#111" stroke-width="1.2" />
<path d="M410.2,466.2 C409.8,464.2 415.2,462.5 418.1,461.6 C421.0,460.7 424.5,460.8 427.3,461.0 C430.1,461.2 432.2,462.0 435.2,463.0 C438.1,464.0 441.5,464.8 445.0,467.0 C448.5,469.2 451.3,472.9 456.0,476.0 C460.7,479.1 470.3,482.7 473.2,485.3 C476.1,487.9 474.1,490.1 473.2,491.8 C472.3,493.5 470.8,495.9 468.0,495.7 C465.2,495.5 460.5,491.8 456.2,490.5 C451.9,489.2 446.2,489.5 442.0,488.0 C437.8,486.5 434.8,483.7 431.2,481.3 C427.6,478.9 424.2,476.0 420.7,473.5 C417.2,471.0 410.6,468.2 410.2,466.2Z" fill="#fff" stroke="#111" stroke-width="1.9" />
<path d="M435.2,463.0 C436.1,461.7 439.1,459.5 440.4,455.1 C441.7,450.7 438.6,444.6 443.0,436.7 C447.4,428.8 462.2,410.9 466.6,407.9 C471.0,404.8 468.9,415.3 469.3,418.4 C469.8,421.4 470.0,422.0 469.3,426.2 C468.6,430.4 466.4,437.8 465.3,443.3 C464.2,448.8 464.0,453.8 462.7,459.0 C461.4,464.2 458.4,472.2 457.5,474.8" fill="#fff" stroke="#111" stroke-width="1.9" />
<path d="M468.5,421.0 C467.2,421.3 463.1,427.2 461.0,432.0 C458.9,436.8 456.9,445.0 456.0,450.0 C455.1,455.0 455.4,458.5 455.5,462.0 C455.6,465.5 455.6,470.2 456.5,471.0 C457.4,471.8 459.5,470.8 461.0,467.0 C462.5,463.2 464.2,454.2 465.5,448.0 C466.8,441.8 468.5,434.5 469.0,430.0 C469.5,425.5 469.8,420.7 468.5,421.0Z" fill="#151515" stroke="none" stroke-width="1" />
<path d="M456.2,477.4 L473.2,485.3 L473.2,491.8 L468.0,495.7 L456.2,490.5Z" fill="url(#dk)" stroke="#111" stroke-width="0.6" />
<path d="M429.9,481.3 C429.2,482.8 425.8,486.4 426.0,490.5 C426.2,494.6 429.2,504.9 431.2,506.2 C433.2,507.5 434.1,501.0 437.8,498.4 C441.5,495.8 450.9,491.8 453.5,490.5" fill="#fff" stroke="#111" stroke-width="1.5" />
<path d="M440.4,464.3 C442.0,465.1 447.1,467.2 450.0,469.0 C452.9,470.8 456.2,473.8 457.5,474.8" fill="none" stroke="#111" stroke-width="1" />
<path d="M435.0,484.0 C436.7,484.8 441.5,487.4 445.0,488.5 C448.5,489.6 454.2,490.2 456.0,490.5" fill="none" stroke="#111" stroke-width="1.6" />
<path d="M595.3,448.8 C596.8,447.2 601.9,444.7 606.7,442.6 C611.5,440.6 617.1,438.2 624.3,436.5 C631.5,434.8 645.1,432.9 650.0,432.1 C654.9,431.3 651.7,429.8 653.9,431.5 C656.1,433.2 663.8,440.1 663.1,442.2 C662.5,444.3 656.5,443.1 650.0,444.0 C643.5,444.9 633.0,446.1 624.3,447.5 C615.6,448.9 602.7,452.1 597.9,452.3 C593.1,452.5 593.8,450.4 595.3,448.8Z" fill="url(#lt)" stroke="#111" stroke-width="1.9" />
<path d="M664.9,442.2 L676.9,430.2 L688.0,442.2Z" fill="url(#lt)" stroke="#111" stroke-width="1.9" />
<path d="M588.2,472.6 C587.2,471.4 585.7,468.2 591.7,467.8 C597.7,467.4 614.6,469.2 624.3,470.0 C634.0,470.8 645.9,471.9 650.0,472.6 C654.1,473.4 650.5,472.9 649.2,474.5 C647.9,476.1 647.6,481.4 642.0,482.3 C636.4,483.2 622.9,480.9 615.5,479.7 C608.1,478.5 602.4,476.5 597.9,475.3 C593.4,474.1 589.2,473.9 588.2,472.6Z" fill="url(#lt)" stroke="#111" stroke-width="1.9" />
<path d="M678.8,488.3 C679.9,485.7 686.2,477.8 689.9,475.4 C693.6,472.9 700.1,472.8 701.0,473.6 C701.9,474.4 698.3,477.1 695.4,480.0 C692.5,482.9 686.2,489.7 683.4,491.1 C680.6,492.5 677.7,490.9 678.8,488.3Z" fill="url(#lt)" stroke="#111" stroke-width="1.6" />
<path d="M589.1,455.0 C590.7,452.9 592.0,454.4 597.9,453.2 C603.8,452.0 615.6,449.4 624.3,447.9 C633.0,446.4 642.8,445.2 650.0,444.4 C657.2,443.6 660.1,443.2 667.7,443.1 C675.3,443.0 687.7,443.4 695.4,444.0 C703.1,444.6 706.0,444.6 713.9,446.8 C721.8,449.0 739.4,454.8 742.5,457.4 C745.6,460.0 732.4,461.5 732.4,462.5 C732.4,463.5 742.5,462.5 742.5,463.4 C742.5,464.3 738.7,466.5 732.4,468.0 C726.1,469.5 714.0,471.5 704.7,472.6 C695.5,473.7 687.7,474.3 676.9,474.5 C666.1,474.7 651.7,474.8 640.0,473.6 C628.3,472.4 615.3,468.6 606.7,467.3 C598.1,466.0 591.1,468.1 588.2,466.0 C585.3,463.9 587.5,457.1 589.1,455.0Z" fill="#fff" stroke="#111" stroke-width="1.7" />
<path d="M551.2,447.0 C553.3,444.9 558.5,448.7 562.6,449.7 C566.7,450.7 572.5,451.9 575.9,453.2 C579.3,454.4 580.7,456.6 582.9,457.2 C585.1,457.8 588.2,455.2 589.1,456.7 C590.0,458.2 589.2,464.3 588.2,466.0 C587.2,467.7 585.0,466.1 582.9,466.9 C580.8,467.7 579.3,469.7 575.9,470.8 C572.5,471.9 566.6,472.8 562.6,473.5 C558.6,474.2 554.2,477.2 552.1,475.3 C550.0,473.4 549.9,466.7 549.8,462.0 C549.6,457.3 549.1,449.1 551.2,447.0Z" fill="url(#dk)" stroke="#111" stroke-width="1.6" />
<path d="M706.5,447.7 C708.4,445.7 707.9,445.2 713.9,446.8 C719.9,448.4 739.4,454.8 742.5,457.4 C745.6,460.0 732.4,461.5 732.4,462.5 C732.4,463.5 742.5,462.5 742.5,463.4 C742.5,464.3 738.7,466.6 732.4,468.0 C726.1,469.4 709.7,473.0 704.7,471.5 C699.7,470.0 702.2,463.0 702.5,459.0 C702.8,455.0 704.6,449.7 706.5,447.7Z" fill="#b5b5b5" stroke="none" stroke-width="1" />
<path d="M728.7,453.3 C731.1,452.7 741.9,455.9 742.5,457.4 C743.1,458.9 732.4,461.5 732.4,462.5 C732.4,463.5 742.5,462.5 742.5,463.4 C742.5,464.3 734.8,468.4 732.4,468.0 C730.0,467.6 728.6,463.4 728.0,461.0 C727.4,458.6 726.3,453.9 728.7,453.3Z" fill="url(#lt)" stroke="none" stroke-width="1" />
<path d="M667.7,443.1 C672.3,443.2 687.7,443.4 695.4,444.0 C703.1,444.6 706.0,444.6 713.9,446.8 C721.8,449.0 739.4,454.8 742.5,457.4 C745.6,460.0 732.4,461.5 732.4,462.5 C732.4,463.5 742.5,462.5 742.5,463.4 C742.5,464.3 738.7,466.5 732.4,468.0 C726.1,469.5 714.0,471.5 704.7,472.6 C695.5,473.7 681.5,474.2 676.9,474.5" fill="none" stroke="#111" stroke-width="1.7" />
<path d="M651.1,450.5 C651.9,448.2 653.4,447.6 658.5,447.7 C663.6,447.8 676.5,449.9 681.6,451.4 C686.7,452.9 687.3,454.8 689.0,456.9 C690.7,459.0 692.2,462.6 691.7,464.3 C691.2,466.0 691.3,466.6 686.2,467.1 C681.1,467.6 666.6,468.0 661.2,467.1 C655.8,466.2 655.6,464.4 653.9,461.6 C652.2,458.8 650.3,452.8 651.1,450.5Z" fill="url(#dk)" stroke="#111" stroke-width="1.6" />
<path d="M689.9,451.4 C690.6,452.8 691.5,456.9 694.0,460.0 C696.5,463.1 702.9,468.6 704.7,470.3" fill="none" stroke="#111" stroke-width="1.5" />
<path d="M706.5,447.7 C705.9,449.2 702.7,454.1 702.8,457.0 C702.9,459.9 705.3,463.2 707.0,465.0 C708.7,466.8 712.0,467.5 713.0,468.0" fill="none" stroke="#111" stroke-width="1.6" />
<ellipse cx="719" cy="455.1" rx="3.6" ry="2.5" fill="#111"/>
<path d="M975.5,463.4 L1025.8,464.2 L1026.7,484.4 L1009.0,483.5 L965.4,483.5 L968.7,470.1Z" fill="url(#md)" stroke="#111" stroke-width="1.6" />
<path d="M920.9,471.0 C922.6,468.8 933.4,467.3 940.2,465.9 C947.1,464.5 956.1,463.2 962.0,462.6 C967.9,462.1 974.2,461.5 975.5,462.6 C976.8,463.7 971.6,466.4 970.0,469.0 C968.4,471.6 967.0,475.6 966.0,478.0 C965.0,480.4 965.5,481.9 963.7,483.5 C961.9,485.1 957.5,486.5 955.0,487.5 C952.5,488.5 951.1,489.5 948.6,489.4 C946.1,489.3 943.3,488.6 940.2,486.9 C937.1,485.2 933.2,481.6 930.0,479.0 C926.8,476.4 919.2,473.2 920.9,471.0Z" fill="#8a8a8a" stroke="#111" stroke-width="1.8" stroke-linejoin="round"/>
<path d="M1026.7,467.2 C1030.6,464.6 1042.7,467.1 1050.0,467.0 C1057.3,466.9 1064.2,466.7 1070.4,466.8 C1076.6,466.9 1082.3,466.9 1087.2,467.6 C1092.1,468.3 1095.6,470.2 1099.8,471.0 C1104.0,471.8 1111.0,470.7 1112.4,472.6 C1113.8,474.6 1109.9,479.9 1108.2,482.7 C1106.5,485.5 1103.6,489.4 1102.3,489.4 C1101.0,489.4 1101.2,482.5 1100.6,482.7 C1100.0,482.9 1099.9,488.9 1098.9,490.3 C1097.9,491.7 1096.0,492.1 1094.7,491.1 C1093.5,490.1 1092.7,486.4 1091.4,484.4 C1090.2,482.4 1090.7,479.7 1087.2,479.3 C1083.7,478.9 1078.8,481.5 1070.4,481.9 C1062.0,482.3 1043.5,481.3 1036.8,481.9 C1030.1,482.4 1031.8,485.1 1030.1,485.2 C1028.4,485.3 1027.3,485.7 1026.7,482.7 C1026.1,479.7 1022.8,469.8 1026.7,467.2Z" fill="#333" stroke="#111" stroke-width="1.4" />
<path d="M1070.4,478.5 C1069.9,476.9 1074.3,471.7 1077.1,470.1 C1079.9,468.5 1083.9,468.9 1087.0,469.0 C1090.1,469.1 1092.6,470.2 1095.6,471.0 C1098.6,471.8 1102.9,472.5 1105.0,474.0 C1107.1,475.5 1108.5,478.0 1108.0,480.0 C1107.5,482.0 1103.7,484.5 1102.0,486.0 C1100.3,487.5 1099.5,488.7 1098.0,489.0 C1096.5,489.3 1094.3,489.3 1093.0,488.0 C1091.7,486.7 1092.2,482.4 1090.0,481.0 C1087.8,479.6 1083.3,479.9 1080.0,479.5 C1076.7,479.1 1070.9,480.1 1070.4,478.5Z" fill="url(#md)" stroke="none" stroke-width="1" />
<path d="M1051.9,479.3 C1053.2,478.1 1058.7,473.8 1059.5,471.8 C1060.3,469.9 1057.3,468.3 1056.9,467.6" fill="none" stroke="#111" stroke-width="1.6" />
<path d="M1091.0,481.0 C1091.3,482.0 1092.3,485.3 1093.0,487.0 C1093.7,488.7 1094.7,490.3 1095.0,491.0" fill="none" stroke="#222" stroke-width="1.3" />
<path d="M1098.0,481.0 C1098.2,481.8 1099.3,484.5 1099.5,486.0 C1099.7,487.5 1099.1,489.3 1099.0,490.0" fill="none" stroke="#222" stroke-width="1.3" />
<path d="M1103.0,479.0 C1103.3,479.8 1105.1,482.3 1105.0,484.0 C1104.9,485.7 1102.9,488.2 1102.5,489.0" fill="none" stroke="#222" stroke-width="1.3" />
<path d="M1106.0,476.0 C1106.7,476.3 1109.7,476.9 1110.0,478.0 C1110.3,479.1 1108.3,481.8 1108.0,482.5" fill="none" stroke="#222" stroke-width="1.3" />
<path d="M569.2,596.0 C572.0,591.5 580.0,590.6 586.0,588.0 C592.0,585.4 597.7,582.4 605.0,580.5 C612.3,578.6 620.8,578.0 630.0,576.8 C639.2,575.6 651.1,574.8 660.0,573.5 C668.9,572.2 681.3,569.1 683.6,569.2 C685.9,569.3 676.5,572.1 673.8,574.1 C671.1,576.1 670.5,578.8 667.5,581.3 C664.5,583.8 659.5,586.2 655.9,589.3 C652.3,592.4 650.4,596.9 646.1,600.0 C641.8,603.1 634.0,606.0 630.0,608.1 C626.0,610.2 625.6,611.0 622.2,612.8 C618.8,614.6 614.8,618.0 609.6,619.1 C604.4,620.2 597.5,619.7 590.8,619.1 C584.1,618.5 572.9,619.1 569.3,615.3 C565.7,611.4 566.4,600.5 569.2,596.0Z" fill="#fff" stroke="none" stroke-width="1" />
<path d="M569.2,596.0 C572.0,594.7 580.0,590.6 586.0,588.0 C592.0,585.4 597.7,582.4 605.0,580.5 C612.3,578.6 620.8,578.0 630.0,576.8 C639.2,575.6 651.1,574.8 660.0,573.5 C668.9,572.2 679.7,569.9 683.6,569.2" fill="none" stroke="#111" stroke-width="0.9" />
<path d="M569.3,615.3 C572.9,615.9 584.1,618.5 590.8,619.1 C597.5,619.7 604.4,620.2 609.6,619.1 C614.8,618.0 617.1,615.5 622.2,612.8 C627.3,610.1 636.0,604.8 640.0,602.7 C644.0,600.6 643.5,602.2 646.1,600.0 C648.8,597.8 652.3,592.4 655.9,589.3 C659.5,586.2 664.5,583.8 667.5,581.3 C670.5,578.8 671.1,576.0 673.8,574.1 C676.5,572.2 682.0,570.4 683.6,569.7" fill="none" stroke="#111" stroke-width="1.5" />
<path d="M575.6,591.4 C578.3,589.1 587.8,584.7 594.5,582.6 C601.2,580.5 608.3,579.8 615.9,578.8 C623.5,577.8 634.3,577.4 640.0,576.9 C645.7,576.4 649.2,575.0 650.0,576.0 C650.8,577.0 646.7,581.1 645.0,583.0 C643.3,584.9 642.8,586.6 640.0,587.6 C637.2,588.6 631.9,587.2 628.5,588.9 C625.1,590.6 622.9,595.2 619.7,597.7 C616.6,600.2 613.4,602.7 609.6,604.0 C605.8,605.3 601.2,605.9 597.0,605.3 C592.8,604.7 587.6,601.7 584.5,600.2 C581.4,598.7 579.7,597.9 578.2,596.4 C576.7,594.9 572.9,593.7 575.6,591.4Z" fill="url(#lt)" stroke="none" stroke-width="1" />
<circle cx="650.6" cy="584" r="3.2" fill="#111"/>
<path d="M495.0,614.7 C496.1,613.5 503.4,607.8 508.9,605.3 C514.4,602.8 521.5,601.0 527.8,599.6 C534.1,598.2 539.9,597.7 546.7,597.1 C553.5,596.5 564.9,592.8 568.7,595.8 C572.5,598.8 574.0,612.0 569.3,615.3 C564.6,618.5 549.4,615.4 540.4,615.3 C531.4,615.2 521.5,615.1 515.2,614.7 C508.9,614.3 506.0,612.8 502.6,612.8 C499.2,612.8 493.9,616.0 495.0,614.7Z" fill="url(#dk)" stroke="none" stroke-width="1" />
<path d="M546.0,597.2 L568.7,595.8 L569.3,615.3 L546.0,615.3Z" fill="#151515" stroke="none" stroke-width="1" />
<path d="M495.0,614.7 C496.3,613.4 500.5,608.8 503.0,607.0 C505.5,605.2 508.8,604.5 510.0,604.0" fill="none" stroke="url(#lt)" stroke-width="3" />
<ellipse cx="522.1" cy="619.0" rx="5.7" ry="3.9" fill="url(#dk)" stroke="#111" stroke-width="0.8"/>
<ellipse cx="534.7" cy="619.6" rx="5.7" ry="4.6" fill="url(#dk)" stroke="#111" stroke-width="0.8"/>
<ellipse cx="550.5" cy="619.0" rx="7.6" ry="3.9" fill="url(#dk)" stroke="#111" stroke-width="0.8"/>
<ellipse cx="566.8" cy="619.6" rx="6.3" ry="4.6" fill="url(#dk)" stroke="#111" stroke-width="0.8"/>
<ellipse cx="580.7" cy="619.8" rx="10.1" ry="3.1" fill="url(#dk)" stroke="#111" stroke-width="0.8"/>
<path d="M524.0,622.9 L530.3,633.0" fill="none" stroke="#444" stroke-width="2.2" />
<path d="M537.9,624.2 L544.2,636.8" fill="none" stroke="#444" stroke-width="2.2" />
<path d="M558.0,622.9 L565.6,633.0" fill="none" stroke="#444" stroke-width="2.2" />
<path d="M573.1,621.6 L580.7,629.2" fill="none" stroke="#444" stroke-width="2.2" />
<path d="M592.0,622.9 L602.1,631.7" fill="none" stroke="#444" stroke-width="2.2" />
<path d="M683.6,569.2 L714,553.6 M683.6,569.2 L707.7,564.3 M683.6,569.5 L711.3,577.7" fill="none" stroke="#222" stroke-width="1" />
<path d="M673.8,578.6 C674.5,579.3 676.7,582.3 678.3,583.0 C679.9,583.7 682.7,582.7 683.6,582.6" fill="none" stroke="#1a1a1a" stroke-width="1.6" />
<path d="M669.3,583.0 C670.2,583.6 673.8,586.0 674.7,586.6" fill="none" stroke="#1a1a1a" stroke-width="1.6" />
<path d="M656.8,589.3 C658.7,589.0 664.5,587.5 668.4,587.5 C672.3,587.5 676.4,587.9 680.0,589.3 C683.6,590.6 688.2,594.5 689.9,595.6" fill="none" stroke="#1a1a1a" stroke-width="1.6" />
<path d="M656.8,591.1 C659.0,591.1 665.7,590.5 670.2,591.1 C674.7,591.7 680.5,592.5 683.6,594.7 C686.7,596.9 688.1,602.9 689.0,604.5" fill="none" stroke="#1a1a1a" stroke-width="1.6" />
<path d="M654.1,594.7 C656.3,594.7 663.5,594.1 667.5,594.7 C671.5,595.3 675.6,596.4 678.3,598.3 C681.0,600.2 682.7,605.0 683.6,606.3" fill="none" stroke="#1a1a1a" stroke-width="1.6" />
<path d="M652.3,596.5 C654.5,597.0 661.2,597.9 665.7,599.2 C670.2,600.5 677.0,603.6 679.2,604.5" fill="none" stroke="#1a1a1a" stroke-width="1.6" />
<path d="M647.0,600.0 C649.4,600.3 656.8,599.8 661.3,601.8 C665.8,603.8 671.7,610.1 673.8,611.7" fill="none" stroke="#1a1a1a" stroke-width="1.6" />
<path d="M641.6,603.6 C644.9,604.0 656.5,603.3 661.3,606.3 C666.1,609.3 668.7,619.0 670.2,621.5" fill="none" stroke="#1a1a1a" stroke-width="1.6" />
<ellipse cx="155" cy="646" rx="23" ry="18" transform="rotate(-12 155 646)" fill="#7a7a7a" stroke="#111" stroke-width="1.6"/>
<ellipse cx="151.5" cy="647.9" rx="13" ry="7.9" transform="rotate(-20 151.5 647.9)" fill="#bdbdbd" stroke="#111" stroke-width="0.8"/>
<ellipse cx="151.5" cy="647.2" rx="7.9" ry="5" transform="rotate(-20 151.5 647.2)" fill="#fff" stroke="#111" stroke-width="0.8"/>
<path d="M122.2,612.9 Q129.7,625.8 141.0,635.5" fill="none" stroke="#111" stroke-width="2.8" stroke-linecap="round"/>
<path d="M111.4,622.9 Q122.9,632.6 137.0,638.0" fill="none" stroke="#111" stroke-width="2.8" stroke-linecap="round"/>
<path d="M136.5,612.2 Q141.5,623.5 150.5,632.0" fill="none" stroke="#111" stroke-width="1.8" stroke-linecap="round"/>
<path d="M149.3,611.4 Q150.8,622.1 157.0,631.0" fill="none" stroke="#111" stroke-width="1.8" stroke-linecap="round"/>
<path d="M162.9,617.9 Q165.7,625.8 163.6,634.0" fill="none" stroke="#111" stroke-width="1.8" stroke-linecap="round"/>
<path d="M180.8,619.3 Q176.6,628.5 168.5,634.5" fill="none" stroke="#111" stroke-width="1.8" stroke-linecap="round"/>
<path d="M183.7,626.5 Q179.0,634.1 171.0,638.0" fill="none" stroke="#111" stroke-width="1.8" stroke-linecap="round"/>
<path d="M193.7,634.3 Q184.7,640.0 174.0,641.0" fill="none" stroke="#111" stroke-width="1.8" stroke-linecap="round"/>
<path d="M190.8,650.8 Q181.7,650.8 174.0,646.0" fill="none" stroke="#111" stroke-width="1.8" stroke-linecap="round"/>
<path d="M188.0,682.2 Q177.8,668.1 164.0,657.5" fill="none" stroke="#111" stroke-width="1.8" stroke-linecap="round"/>
<path d="M180.8,685.1 Q172.9,670.5 161.0,659.0" fill="none" stroke="#111" stroke-width="1.8" stroke-linecap="round"/>
<path d="M160.8,682.2 Q160.1,670.4 154.5,660.0" fill="none" stroke="#111" stroke-width="1.8" stroke-linecap="round"/>
<path d="M149.3,687.9 Q146.1,674.3 147.9,660.5" fill="none" stroke="#111" stroke-width="1.8" stroke-linecap="round"/>
<path d="M133.6,682.2 Q136.5,669.6 144.0,659.0" fill="none" stroke="#111" stroke-width="1.8" stroke-linecap="round"/>
<path d="M126.5,677.9 Q130.4,667.1 138.5,659.0" fill="none" stroke="#111" stroke-width="1.8" stroke-linecap="round"/>
<path d="M111.4,675.1 Q121.2,664.3 134.0,657.5" fill="none" stroke="#111" stroke-width="1.8" stroke-linecap="round"/>
<path d="M109.3,662.2 Q120.5,655.0 133.5,652.5" fill="none" stroke="#111" stroke-width="1.8" stroke-linecap="round"/>
<path d="M104.3,655.8 Q118.2,649.0 133.5,647.0" fill="none" stroke="#111" stroke-width="1.8" stroke-linecap="round"/>
<path d="M172.2,655.0 C174.8,656.5 183.9,661.5 188.0,664.0 C192.1,666.5 194.9,668.9 197.0,670.0 C199.1,671.1 200.4,670.1 200.8,670.8 C201.2,671.5 199.7,673.5 199.5,674.0" fill="none" stroke="#111" stroke-width="1.7" />
<path d="M213.5,628.0 C213.2,629.0 212.5,631.6 212.0,634.0 C211.5,636.4 211.3,639.2 210.5,642.2 C209.7,645.2 207.8,648.7 207.0,652.0 C206.2,655.3 206.3,659.1 206.0,662.0 C205.7,664.9 205.7,666.5 205.1,669.4 C204.5,672.3 204.0,676.8 202.3,679.4 C200.6,682.0 197.4,683.3 195.0,685.0 C192.6,686.7 192.8,686.5 188.0,689.4 C183.2,692.3 172.5,698.2 166.5,702.2 C160.5,706.2 154.6,711.8 152.2,713.7" fill="none" stroke="#111" stroke-width="5.2" stroke-linecap="round"/>
<path d="M213.5,628.0 C213.2,629.0 212.5,631.6 212.0,634.0 C211.5,636.4 211.3,639.2 210.5,642.2 C209.7,645.2 207.8,648.7 207.0,652.0 C206.2,655.3 206.3,659.1 206.0,662.0 C205.7,664.9 205.7,666.5 205.1,669.4 C204.5,672.3 204.0,676.8 202.3,679.4 C200.6,682.0 197.4,683.3 195.0,685.0 C192.6,686.7 192.8,686.5 188.0,689.4 C183.2,692.3 172.5,698.2 166.5,702.2 C160.5,706.2 154.6,711.8 152.2,713.7" fill="none" stroke="url(#lt)" stroke-width="3.0" stroke-linecap="round"/>
<path d="M213.5,628.0 C213.2,629.0 212.5,631.6 212.0,634.0 C211.5,636.4 211.3,639.2 210.5,642.2 C209.7,645.2 207.8,648.7 207.0,652.0 C206.2,655.3 206.3,659.1 206.0,662.0 C205.7,664.9 205.2,668.2 205.1,669.4" fill="none" stroke="#c8c8c8" stroke-width="2.6" stroke-linecap="round"/>
<path d="M208.5,621.5 C208.8,620.2 211.2,620.6 213.0,620.5 C214.8,620.4 218.3,620.1 219.5,621.0 C220.7,621.9 220.6,624.7 220.0,626.0 C219.4,627.3 217.5,628.7 216.0,629.0 C214.5,629.3 212.2,629.2 211.0,628.0 C209.8,626.8 208.2,622.8 208.5,621.5Z" fill="#c8c8c8" stroke="#111" stroke-width="1.3" />
<path d="M1051.4,593.1 C1049.6,592.5 1044.7,589.8 1040.3,589.6 C1035.9,589.4 1030.2,591.2 1025.2,592.1 C1020.2,593.0 1014.1,595.4 1010.1,595.1 C1006.1,594.8 1002.9,591.8 1001.0,590.1 C999.1,588.4 999.3,585.9 999.0,585.0" fill="none" stroke="#111" stroke-width="1.1" />
<path d="M1058.5,593.1 C1060.0,592.6 1063.8,589.9 1067.5,590.1 C1071.2,590.3 1073.4,592.8 1080.6,594.1 C1087.8,595.4 1105.9,597.4 1110.9,598.1" fill="none" stroke="#111" stroke-width="1.1" />
<path d="M1054.4,593.1 C1056.4,592.1 1058.2,592.1 1059.5,594.1 C1060.8,596.1 1062.3,601.2 1062.5,605.2 C1062.7,609.2 1061.2,614.1 1060.5,618.3 C1059.8,622.5 1059.3,626.7 1058.5,630.4 C1057.7,634.1 1056.7,640.8 1055.5,640.5 C1054.3,640.2 1052.6,632.6 1051.4,628.4 C1050.2,624.2 1049.1,620.0 1048.4,615.3 C1047.7,610.6 1046.4,603.9 1047.4,600.2 C1048.4,596.5 1052.4,594.1 1054.4,593.1Z" fill="#d0d0d0" stroke="#111" stroke-width="1.1" />
<path d="M1054.4,593.1 C1056.4,592.1 1059.2,591.3 1059.5,594.1 C1059.8,596.9 1056.4,604.0 1056.0,610.0 C1055.6,616.0 1057.1,624.9 1057.0,630.0 C1056.9,635.1 1056.4,640.8 1055.5,640.5 C1054.6,640.2 1052.6,632.6 1051.4,628.4 C1050.2,624.2 1049.1,620.0 1048.4,615.3 C1047.7,610.6 1046.4,603.9 1047.4,600.2 C1048.4,596.5 1052.4,594.1 1054.4,593.1Z" fill="#7e7e7e" stroke="none" stroke-width="1" />
<path d="M1046.0,598.0 q-3.0,-1 -3.5,2" fill="none" stroke="#111" stroke-width="1.3" />
<path d="M1047.0,606.0 q-3.0,-1 -3.5,2" fill="none" stroke="#111" stroke-width="1.3" />
<path d="M1048.0,613.0 q-3.0,-1 -3.5,2" fill="none" stroke="#111" stroke-width="1.3" />
<path d="M1062.0,601.0 q3.0,-1 3.5,2" fill="none" stroke="#111" stroke-width="1.3" />
<path d="M1063.0,608.0 q3.0,-1 3.5,2" fill="none" stroke="#111" stroke-width="1.3" />
<path d="M1061.0,616.0 q3.0,-1 3.5,2" fill="none" stroke="#111" stroke-width="1.3" />
<path d="M1050.4,636.4 L1050.4,646.5" fill="none" stroke="#111" stroke-width="1" />
<path d="M582.6,706.3 C581.9,707.9 579.5,713.3 578.5,716.0 C577.5,718.7 577.4,719.1 576.9,722.5 C576.4,725.9 575.9,734.0 575.7,736.3" fill="none" stroke="#111" stroke-width="3.3" stroke-linecap="round"/>
<path d="M558.1,777.6 C557.6,776.1 555.6,762.3 556.3,756.3 C557.0,750.2 559.4,745.4 562.5,741.3 C565.6,737.2 570.8,733.7 575.0,731.9 C579.2,730.1 583.0,730.0 587.6,730.7 C592.2,731.4 597.8,733.0 602.6,736.3 C607.4,739.6 616.0,749.9 616.4,750.7 C616.8,751.5 608.6,743.6 605.1,741.3 C601.6,739.0 597.8,737.3 595.1,736.9 C592.4,736.5 592.6,738.3 588.8,738.8 C584.9,739.3 575.3,739.2 572.0,740.0 C568.7,740.8 570.4,741.7 568.8,743.8 C567.2,745.9 564.0,749.1 562.5,752.6 C561.0,756.1 560.2,760.8 559.5,765.0 C558.8,769.2 558.6,779.1 558.1,777.6Z" fill="#fff" stroke="#111" stroke-width="2" />
<path d="M575.0,753.8 C576.5,752.1 587.8,752.4 591.3,755.1 C594.8,757.8 593.9,762.7 596.0,770.0 C598.1,777.3 604.6,797.6 603.8,798.9 C603.0,800.2 594.8,783.2 591.3,777.6 C587.8,772.0 585.3,769.1 582.6,765.1 C579.9,761.1 573.5,755.5 575.0,753.8Z" fill="#fff" stroke="#111" stroke-width="1.8" />
<path d="M589.5,757.0 L592.6,757.6 L600.1,781.4 L602.5,795.0 L594.0,775.0 L589.0,760.0Z" fill="url(#lt)" stroke="none" stroke-width="1" />
<path d="M568.8,746.3 C569.0,744.0 570.4,740.4 572.5,738.8 C574.6,737.2 578.6,736.7 581.3,736.9 C584.0,737.1 587.1,737.9 588.8,740.1 C590.5,742.3 591.1,747.1 591.3,750.1 C591.5,753.1 591.8,757.2 590.1,758.2 C588.4,759.2 584.4,757.2 581.3,756.3 C578.2,755.4 573.4,754.3 571.3,752.6 C569.2,750.9 568.6,748.6 568.8,746.3Z" fill="#333" stroke="none" stroke-width="1" />
<path d="M623.3,775.5 L690.2,816.0" fill="none" stroke="#111" stroke-width="7.5" stroke-linecap="round"/>
<path d="M606.1,768.5 L611.5,762.6 L614.5,768.0 L627.0,770.5 L622.0,780.0 L616.0,776.5Z" fill="#d8d8d8" stroke="#111" stroke-width="1.3" stroke-linejoin="round"/>
<ellipse cx="623.3" cy="775.5" rx="6.2" ry="4.3" transform="rotate(31.2 623.3 775.5)" fill="#d8d8d8" stroke="#111" stroke-width="1.1"/>
<circle cx="624.8" cy="773.5" r="1.2" fill="#222"/>
<ellipse cx="632.9" cy="781.3" rx="6.2" ry="4.3" transform="rotate(31.2 632.9 781.3)" fill="#d8d8d8" stroke="#111" stroke-width="1.1"/>
<circle cx="634.4" cy="779.3" r="1.2" fill="#222"/>
<ellipse cx="642.4" cy="787.1" rx="6.2" ry="4.3" transform="rotate(31.2 642.4 787.1)" fill="#d8d8d8" stroke="#111" stroke-width="1.1"/>
<circle cx="643.9" cy="785.1" r="1.2" fill="#222"/>
<ellipse cx="652.0" cy="792.9" rx="6.2" ry="4.3" transform="rotate(31.2 652.0 792.9)" fill="#d8d8d8" stroke="#111" stroke-width="1.1"/>
<circle cx="653.5" cy="790.9" r="1.2" fill="#222"/>
<ellipse cx="661.5" cy="798.6" rx="6.2" ry="4.3" transform="rotate(31.2 661.5 798.6)" fill="#d8d8d8" stroke="#111" stroke-width="1.1"/>
<circle cx="663.0" cy="796.6" r="1.2" fill="#222"/>
<ellipse cx="671.1" cy="804.4" rx="6.2" ry="4.3" transform="rotate(31.2 671.1 804.4)" fill="#d8d8d8" stroke="#111" stroke-width="1.1"/>
<circle cx="672.6" cy="802.4" r="1.2" fill="#222"/>
<ellipse cx="680.6" cy="810.2" rx="6.2" ry="4.3" transform="rotate(31.2 680.6 810.2)" fill="#d8d8d8" stroke="#111" stroke-width="1.1"/>
<circle cx="682.1" cy="808.2" r="1.2" fill="#222"/>
<ellipse cx="690.2" cy="816.0" rx="6.2" ry="4.3" transform="rotate(31.2 690.2 816.0)" fill="#d8d8d8" stroke="#111" stroke-width="1.1"/>
<circle cx="691.7" cy="814.0" r="1.2" fill="#222"/>
<path d="M646.6,776.0 C646.2,773.0 650.3,765.4 652.7,761.3 C655.1,757.1 657.8,753.0 660.8,751.1 C663.8,749.2 667.4,749.9 670.9,749.6 C674.4,749.4 679.9,748.2 681.6,749.6 C683.3,751.0 680.7,754.7 681.1,758.2 C681.5,761.7 684.1,766.7 684.1,770.4 C684.1,774.1 683.3,777.6 681.1,780.5 C678.9,783.4 674.3,786.2 670.9,787.6 C667.5,789.0 663.2,788.8 660.8,788.6 C658.4,788.4 657.6,788.1 656.7,786.6 C655.8,785.1 656.9,781.3 655.2,779.5 C653.5,777.7 647.0,779.0 646.6,776.0Z" fill="#d4d4d4" stroke="#111" stroke-width="1.5" />
<circle cx="665.9" cy="767.4" r="11.5" fill="#aaa"/><circle cx="665.9" cy="767.4" r="10.5" fill="url(#dk)"/>
</g><!--end an-->

<g class="ar">
<line x1="257.4" y1="134.8" x2="540.6" y2="148.7"/>
<path d="M548.6,149.1 L537.9,153.6 L538.4,143.6 Z"/>
<line x1="170.8" y1="391.2" x2="485.8" y2="201.8"/>
<path d="M492.7,197.7 L486.3,207.4 L481.1,198.8 Z"/>
<path class="c" d="M499.0,596.5 C314.9,523.9 187.7,357.5 116.9,185.6"/>
<path d="M114.6,180.1 L123.2,187.9 L114.0,191.7 Z"/>
<line x1="527.2" y1="264.2" x2="543.4" y2="235.9"/>
<path d="M547.4,229.0 L546.5,240.6 L537.8,235.6 Z"/>
<line x1="806.2" y1="293.5" x2="703.6" y2="190.8"/>
<path d="M697.9,185.1 L708.9,189.0 L701.8,196.1 Z"/>
<line x1="920.7" y1="459.2" x2="667.8" y2="201.4"/>
<path d="M662.2,195.7 L673.1,199.7 L666.0,206.7 Z"/>
<path class="c" d="M999.0,303.4 C939.7,231.8 863.1,154.2 769.2,152.3"/>
<path d="M763.2,152.2 L773.8,147.4 L773.6,157.4 Z"/>
<path class="c" d="M948.4,449.9 C939.0,345.8 923.1,226.7 982.2,140.1"/>
<path d="M985.6,135.1 L983.8,146.6 L975.6,141.0 Z"/>
<line x1="814.1" y1="313.1" x2="642.0" y2="313.1"/>
<path d="M634.0,313.1 L644.5,308.1 L644.5,318.1 Z"/>
<line x1="423.4" y1="398.2" x2="450.7" y2="369.3"/>
<path d="M456.2,363.5 L452.6,374.6 L445.4,367.7 Z"/>
<line x1="548.9" y1="581.1" x2="506.2" y2="385.9"/>
<path d="M504.5,378.1 L511.6,387.3 L501.9,389.4 Z"/>
<line x1="575.1" y1="424.7" x2="547.6" y2="364.7"/>
<path d="M544.3,357.4 L553.2,364.9 L544.1,369.0 Z"/>
<line x1="727.2" y1="433.5" x2="810.2" y2="335.1"/>
<path d="M815.4,329.0 L812.4,340.2 L804.8,333.8 Z"/>
<line x1="719.6" y1="559.2" x2="847.5" y2="367.2"/>
<path d="M851.9,360.5 L850.2,372.0 L841.9,366.5 Z"/>
<line x1="933.8" y1="450.6" x2="879.4" y2="365.1"/>
<path d="M875.1,358.4 L885.0,364.6 L876.5,369.9 Z"/>
<line x1="762.5" y1="448.1" x2="1003.7" y2="379.8"/>
<path d="M1011.4,377.6 L1002.7,385.3 L999.9,375.7 Z"/>
<line x1="1041.6" y1="420.9" x2="1041.6" y2="386.1"/>
<path d="M1041.6,378.1 L1046.6,388.6 L1036.6,388.6 Z"/>
<line x1="542.3" y1="458.2" x2="485.6" y2="458.2"/>
<path d="M477.6,458.2 L488.1,453.2 L488.1,463.2 Z"/>
<line x1="903.6" y1="463.7" x2="774.2" y2="463.7"/>
<path d="M766.2,463.7 L776.7,458.7 L776.7,468.7 Z"/>
<line x1="760.0" y1="476.8" x2="901.9" y2="476.3"/>
<path d="M909.9,476.3 L899.4,481.3 L899.4,471.3 Z"/>
<line x1="1027.8" y1="521.4" x2="1028.2" y2="499.4"/>
<path d="M1028.3,491.4 L1033.1,502.0 L1023.1,501.8 Z"/>
<line x1="244.8" y1="561.2" x2="342.7" y2="488.2"/>
<path d="M349.1,483.4 L343.7,493.7 L337.7,485.7 Z"/>
<line x1="238.0" y1="609.6" x2="584.7" y2="487.8"/>
<path d="M592.2,485.1 L584.0,493.3 L580.6,483.9 Z"/>
<line x1="488.9" y1="609.1" x2="246.7" y2="512.6"/>
<path d="M239.3,509.6 L250.9,508.8 L247.2,518.1 Z"/>
<line x1="529.7" y1="586.9" x2="479.6" y2="516.5"/>
<path d="M475.0,510.0 L485.2,515.7 L477.0,521.5 Z"/>
<line x1="735.5" y1="588.9" x2="939.4" y2="512.4"/>
<path d="M946.9,509.6 L938.8,518.0 L935.3,508.6 Z"/>
<line x1="977.9" y1="583.6" x2="736.0" y2="494.2"/>
<path d="M728.5,491.4 L740.1,490.4 L736.6,499.7 Z"/>
<line x1="991.8" y1="608.3" x2="751.6" y2="608.3"/>
<path d="M743.6,608.3 L754.1,603.3 L754.1,613.3 Z"/>
<line x1="503.5" y1="625.2" x2="266.2" y2="624.7"/>
<path d="M258.2,624.7 L268.7,619.7 L268.7,629.7 Z"/>
<polyline class="c" points="1005.6,632.7 897.3,663.2 264.0,663.2"/>
<path d="M258.2,663.2 L268.7,658.2 L268.7,668.2 Z"/>
<line x1="610.6" y1="687.7" x2="610.6" y2="644.0"/>
<path d="M610.6,636.0 L615.6,646.5 L605.6,646.5 Z"/>
<line x1="716.3" y1="762.6" x2="1003.9" y2="654.7"/>
<path d="M1011.4,651.9 L1003.3,660.3 L999.8,650.9 Z"/>
<line x1="148.1" y1="549.1" x2="148.1" y2="523.6"/>
<path d="M148.1,515.6 L153.1,526.1 L143.1,526.1 Z"/>
</g>
<g class="lb">
<text x="18.8" y="68.5" textLength="138.0" lengthAdjust="spacingAndGlyphs">Baleen whale</text>
<text x="476.0" y="72.7" textLength="164.0" lengthAdjust="spacingAndGlyphs">Smaller toothed</text>
<text x="524.0" y="100.0" textLength="69.8" lengthAdjust="spacingAndGlyphs">whales</text>
<text x="933.6" y="110.4" textLength="143.0" lengthAdjust="spacingAndGlyphs">Sperm whales</text>
<text x="786.2" y="222.4" textLength="92.4" lengthAdjust="spacingAndGlyphs">Penguins</text>
<text x="1026.4" y="238.5" textLength="138.4" lengthAdjust="spacingAndGlyphs">Elephant seal</text>
<text x="455.8" y="294.9" textLength="131.6" lengthAdjust="spacingAndGlyphs">Leopard seal</text>
<text x="100.2" y="419.4" textLength="114.6" lengthAdjust="spacingAndGlyphs">Other seals</text>
<text x="296.8" y="412.3" textLength="114.0" lengthAdjust="spacingAndGlyphs">Other birds</text>
<text x="633.4" y="419.7" textLength="39.2" lengthAdjust="spacingAndGlyphs">Fish</text>
<text x="1012.2" y="447.5" textLength="56.4" lengthAdjust="spacingAndGlyphs">Squid</text>
<text x="85.0" y="570.6" textLength="121.4" lengthAdjust="spacingAndGlyphs">Carnivorous</text>
<text x="85.0" y="598.6" textLength="128.2" lengthAdjust="spacingAndGlyphs">zooplankton</text>
<text x="595.0" y="559.2" textLength="42.6" lengthAdjust="spacingAndGlyphs">Krill</text>
<text x="962.4" y="546.8" textLength="185.6" lengthAdjust="spacingAndGlyphs">Other herbivorous</text>
<text x="993.8" y="572.9" textLength="128.6" lengthAdjust="spacingAndGlyphs">zooplankton</text>
<text x="591.0" y="716.4" textLength="149.2" lengthAdjust="spacingAndGlyphs">Phytoplankton</text>
</g>
</svg>
</body></html>
